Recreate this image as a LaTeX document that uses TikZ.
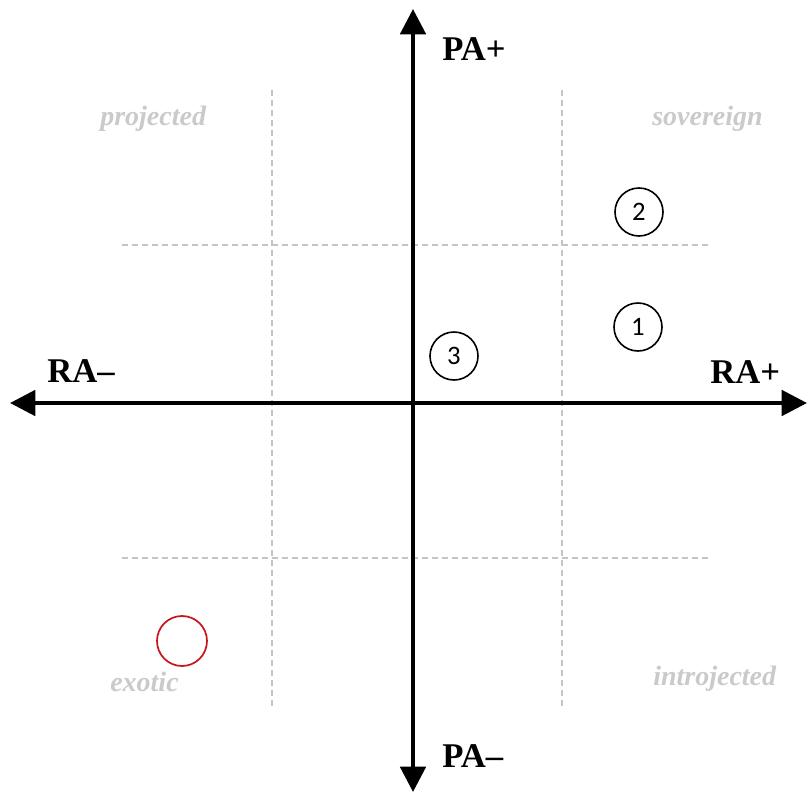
\documentclass[tikz,border=0pt]{standalone}
\usepackage{fontspec}
\setmainfont{Liberation Serif}
\newfontfamily\digitfont{Carlito}
\usetikzlibrary{arrows.meta}
\definecolor{gridgray}{HTML}{C4C4C4}
\definecolor{labelgray}{HTML}{CACACA}
\definecolor{markred}{HTML}{C8161D}
\begin{document}
\begin{tikzpicture}[x=0.75pt,y=-0.75pt,
  axis/.style={line width=3pt, {Triangle[length=19pt,width=19pt]}-{Triangle[length=19pt,width=19pt]}},
  gridline/.style={draw=gridgray, line width=1.1pt, dash pattern=on 4.5pt off 3pt},
  axlabel/.style={font=\fontsize{26pt}{30pt}\selectfont\bfseries, inner sep=0pt, anchor=base west},
  region/.style={font=\fontsize{21pt}{24pt}\selectfont\bfseries\itshape, text=labelgray, inner sep=0pt, anchor=base west},
  marker/.style={circle, draw, line width=1.2pt, minimum size=36pt, inner sep=0pt, font=\digitfont\fontsize{20pt}{24pt}\selectfont},
  redmark/.style={circle, draw=markred, line width=1.3pt, minimum size=37.5pt, inner sep=0pt}
]
\useasboundingbox (0,0) rectangle (808,793);

% grid coordinates
\coordinate (v1t) at (272,90);  \coordinate (v1b) at (272,708);
\coordinate (v2t) at (562,90);  \coordinate (v2b) at (562,708);
\coordinate (h1l) at (122,245); \coordinate (h1r) at (712,245);
\coordinate (h2l) at (122,558); \coordinate (h2r) at (712,558);
\draw[gridline] (v1t) -- (v1b);
\draw[gridline] (v2t) -- (v2b);
\draw[gridline] (h1l) -- (h1r);
\draw[gridline] (h2l) -- (h2r);

% axes
\coordinate (top) at (413,9);
\coordinate (bot) at (413,792);
\coordinate (lft) at (10,403);
\coordinate (rgt) at (807,403);
\draw[axis] (bot) -- (top);
\draw[axis] (lft) -- (rgt);

% axis labels
\node[axlabel] (pap) at (442,60) {PA+};
\node[axlabel] (pam) at (442,767) {PA–};
\node[axlabel] (ram) at (47,382) {RA–};
\node[axlabel] (rap) at (710,383) {RA+};

% region labels
\node[region] (proj) at (100,125) {projected};
\node[region] (sov) at (652,125) {sovereign};
\node[region] (exo) at (110,691) {exotic};
\node[region] (intro) at (653,685) {introjected};

% markers
\node[marker] (c2) at (639,212) {2};
\node[marker] (c1) at (638,327) {1};
\node[marker] (c3) at (454,356) {3};
\node[redmark] (cr) at (182,641) {};
\end{tikzpicture}
\end{document}
